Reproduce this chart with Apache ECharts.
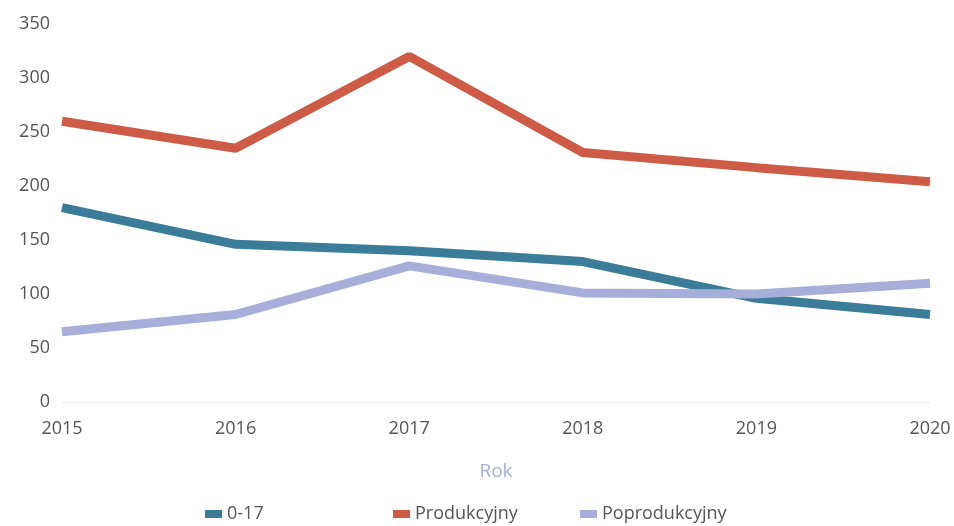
<!DOCTYPE html>
<html>
<head>
<meta charset="utf-8">
<script src="https://cdn.jsdelivr.net/npm/echarts@6/dist/echarts.min.js"></script>
<style>
  html, body { margin: 0; padding: 0; background: #fff; }
  #chart { width: 954px; height: 526px; }
</style>
</head>
<body>
<div id="chart"></div>
<script>
// lata
const years = ['2015', '2016', '2017', '2018', '2019', '2020']
// grupy wiekowe
const young = [180, 146, 140, 130, 96, 81]
const working = [260, 235, 320, 231, 217, 204]
const retired = [65, 81, 126, 101, 100, 110]

const colors = ['#3b7c99', '#cd5b45', '#a7aed9']
const font = '"Open Sans", sans-serif'

const chart = echarts.init(document.getElementById('chart'))

const legendBase = {
  bottom: -2,
  itemWidth: 17,
  itemHeight: 8,
  icon: 'rect',
  textStyle: { fontFamily: font, fontSize: 18, color: '#555' }
}

chart.setOption({
  animation: false,
  grid: {
    left: 62,
    right: 24,
    top: 24,
    bottom: 124
  },
  legend: [
    Object.assign({ left: 200, data: ['0-17'] }, legendBase),
    Object.assign({ left: 388, data: ['Produkcyjny'] }, legendBase),
    Object.assign({ left: 575, data: ['Poprodukcyjny'] }, legendBase)
  ],
  xAxis: {
    type: 'category',
    data: years,
    boundaryGap: false,
    name: 'Rok',
    nameLocation: 'middle',
    nameGap: 60,
    nameTextStyle: { fontFamily: font, fontSize: 19, color: '#a7aed9' },
    axisLine: { lineStyle: { color: '#e6e6e6', type: 'dashed' } },
    axisTick: { show: false },
    axisLabel: { fontFamily: font, fontSize: 18, color: '#555', margin: 18 }
  },
  yAxis: {
    type: 'value',
    min: 0,
    max: 350,
    interval: 50,
    axisLine: { show: false },
    axisTick: { show: false },
    splitLine: { show: false },
    axisLabel: { fontFamily: font, fontSize: 18, color: '#555', margin: 12 }
  },
  series: [
    {
      name: '0-17',
      type: 'line',
      data: young,
      symbol: 'none',
      color: colors[0],
      lineStyle: { width: 9, color: colors[0] }
    },
    {
      name: 'Produkcyjny',
      type: 'line',
      data: working,
      symbol: 'none',
      color: colors[1],
      lineStyle: { width: 9, color: colors[1] }
    },
    {
      name: 'Poprodukcyjny',
      type: 'line',
      data: retired,
      symbol: 'none',
      color: colors[2],
      lineStyle: { width: 9, color: colors[2] }
    }
  ]
})
</script>
</body>
</html>
